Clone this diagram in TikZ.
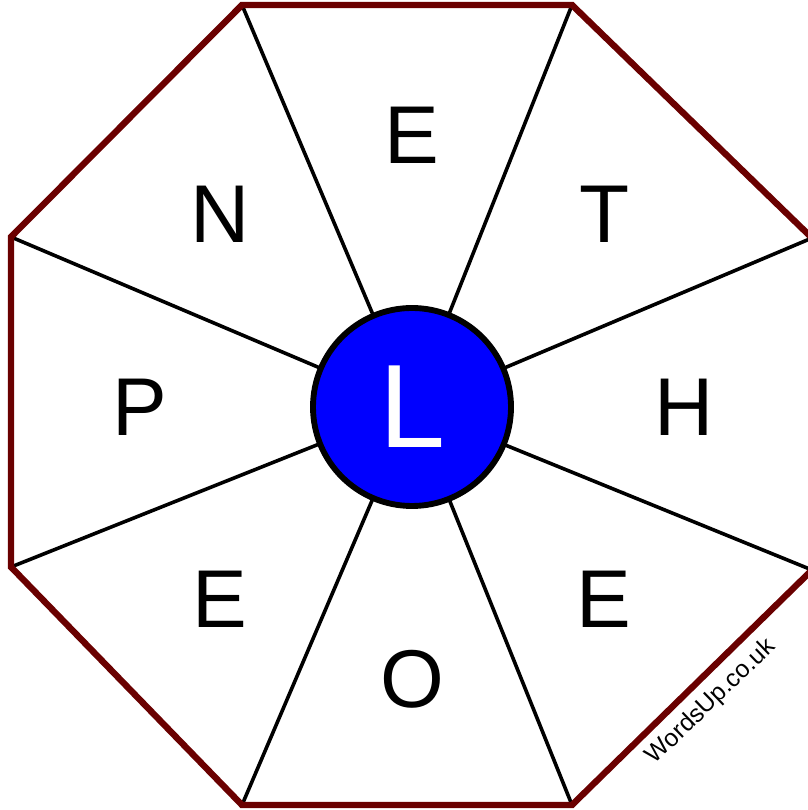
\documentclass[tikz,border=0pt]{standalone}
\usepackage{fontspec}
\setmainfont{Liberation Sans}
\usepackage{xcolor}
\definecolor{rim}{HTML}{6A0000}
\definecolor{hubblue}{HTML}{0000FF}
\definecolor{ink}{HTML}{000000}
\usepackage{tikz}
\usetikzlibrary{calc}
\tikzset{
  rimline/.style={draw=rim,line width=4.8pt,line join=miter},
  spoke/.style={draw=ink,line width=2.7pt},
  hubdisc/.style={circle,draw=ink,fill=hubblue,line width=4.4pt,minimum size=148.5pt,inner sep=0pt,
    text=white,font=\fontsize{89}{89}\selectfont},
  tile/.style={inner sep=0pt,text=ink,font=\fontsize{61.5}{61.5}\selectfont},
  sitetag/.style={inner sep=0pt,text=ink,font=\fontsize{18.5}{18.5}\selectfont},
}
\begin{document}
\begin{tikzpicture}[x=0.75pt,y=0.75pt]
  \useasboundingbox (0,0) rectangle (807,810);
  % octagon corners
  \coordinate (c1) at (242,805);
  \coordinate (c2) at (572,805);
  \coordinate (c3) at (812,572);
  \coordinate (c4) at (812,240);
  \coordinate (c5) at (572,5);
  \coordinate (c6) at (242,5);
  \coordinate (c7) at (11,243);
  \coordinate (c8) at (11,573);
  \coordinate (mid) at (412,403);
  % spokes
  \foreach \k in {1,...,8}{\draw[spoke] (mid) -- (c\k);}
  \draw[rimline] (c1) -- (c2) -- (c3) -- (c4) -- (c5) -- (c6) -- (c7) -- (c8) -- cycle;
  % centre letter
  \node[hubdisc] (hub) at (mid) {L};
  % outer letters
  \foreach \a/\t in {90/E,45/T,0/H,-45/E,-90/O,-135/E,180/P,135/N}{
    \node[tile] (l\a) at ($(mid)+(\a:272)$) {\t};
  }
  \node[sitetag,rotate=44] (site) at (711,108) {WordsUp.co.uk};
\end{tikzpicture}
\end{document}
